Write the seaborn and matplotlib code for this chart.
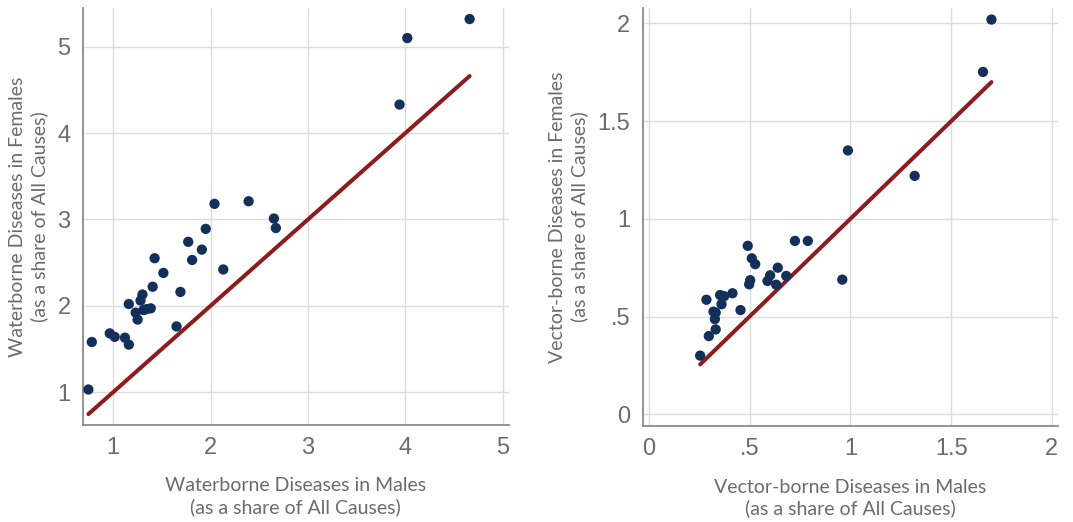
import matplotlib
matplotlib.use("Agg")
import matplotlib.pyplot as plt
import numpy as np
import pandas as pd
import seaborn as sns

# Waterborne diseases, share of all causes (%)
water_male = [0.745, 0.78, 0.964, 1.015, 1.12, 1.16, 1.16, 1.23, 1.25, 1.28, 1.30,
              1.31, 1.34, 1.385, 1.405, 1.425, 1.515, 1.65, 1.69, 1.77, 1.81, 1.91,
              1.95, 2.04, 2.13, 2.39, 2.65, 2.67, 3.94, 4.02, 4.66]
water_female = [1.03, 1.58, 1.68, 1.64, 1.63, 1.55, 2.02, 1.92, 1.84, 2.06, 2.13,
                1.95, 1.96, 1.97, 2.22, 2.55, 2.38, 1.76, 2.16, 2.74, 2.53, 2.65,
                2.89, 3.18, 2.42, 3.21, 3.01, 2.90, 4.33, 5.10, 5.32]

# Vector-borne diseases, share of all causes (%)
vector_male = [0.255, 0.286, 0.298, 0.321, 0.328, 0.332, 0.332, 0.354, 0.361, 0.374,
               0.415, 0.455, 0.491, 0.498, 0.503, 0.511, 0.528, 0.589, 0.602, 0.632,
               0.640, 0.682, 0.725, 0.789, 0.96, 0.988, 1.319, 1.658, 1.70]
vector_female = [0.30, 0.586, 0.40, 0.525, 0.487, 0.434, 0.52, 0.61, 0.563, 0.604,
                 0.619, 0.533, 0.862, 0.665, 0.686, 0.798, 0.768, 0.682, 0.711, 0.663,
                 0.750, 0.708, 0.887, 0.887, 0.689, 1.35, 1.22, 1.752, 2.02]

water_ticks = [1, 2, 3, 4, 5]
water_ticklabels = ["1", "2", "3", "4", "5"]
vector_ticks = [0, 0.5, 1, 1.5, 2]
vector_ticklabels = ["0", ".5", "1", "1.5", "2"]

DOT = "#13305a"
LINE = "#8e1b1d"
GRID = "#dcdcdc"
TEXT = "#6b6b6b"

sns.set_style("white")
plt.rcParams["font.family"] = ["Liberation Sans", "DejaVu Sans"]

fig = plt.figure(figsize=(10.73, 5.22), dpi=100)
ax1 = fig.add_axes([0.0774, 0.186, 0.3966, 0.799])
ax2 = fig.add_axes([0.599, 0.184, 0.387, 0.801])


def draw_panel(ax, xs, ys, ticks, ticklabels, xlim, ylim, xlabel, ylabel):
    df = pd.DataFrame({"male": xs, "female": ys})
    lo, hi = df["male"].min(), df["male"].max()
    eq = pd.DataFrame({"x": [lo, hi], "y": [lo, hi]})
    sns.lineplot(data=eq, x="x", y="y", ax=ax, color=LINE, linewidth=2.9, zorder=2)
    sns.scatterplot(data=df, x="male", y="female", ax=ax, color=DOT, s=55,
                    edgecolor="none", zorder=3)
    ax.set_xlim(*xlim)
    ax.set_ylim(*ylim)
    ax.set_xticks(ticks)
    ax.set_xticklabels(ticklabels)
    ax.set_yticks(ticks)
    ax.set_yticklabels(ticklabels)
    ax.grid(True, color=GRID, linewidth=1.0)
    ax.set_axisbelow(True)
    for side in ["top", "right"]:
        ax.spines[side].set_visible(False)
    for side in ["left", "bottom"]:
        ax.spines[side].set_color("#8a8a8a")
        ax.spines[side].set_linewidth(1.3)
    ax.tick_params(axis="both", direction="out", length=4, width=1, color=GRID,
                   labelsize=17, labelcolor=TEXT, pad=5)
    ax.set_xlabel(xlabel, fontsize=14, color=TEXT, family="Lato", labelpad=13,
                  linespacing=1.25)
    ax.set_ylabel(ylabel, fontsize=14, color=TEXT, family="Lato", labelpad=7,
                  linespacing=1.25)


draw_panel(ax1, water_male, water_female, water_ticks, water_ticklabels,
           (0.69, 5.06), (0.62, 5.45),
           "Waterborne Diseases in Males\n(as a share of All Causes)",
           "Waterborne Diseases in Females\n(as a share of All Causes)")
draw_panel(ax2, vector_male, vector_female, vector_ticks, vector_ticklabels,
           (-0.03, 2.03), (-0.06, 2.08),
           "Vector-borne Diseases in Males\n(as a share of All Causes)",
           "Vector-borne Diseases in Females\n(as a share of All Causes)")

fig.savefig("out.png", dpi=100)
